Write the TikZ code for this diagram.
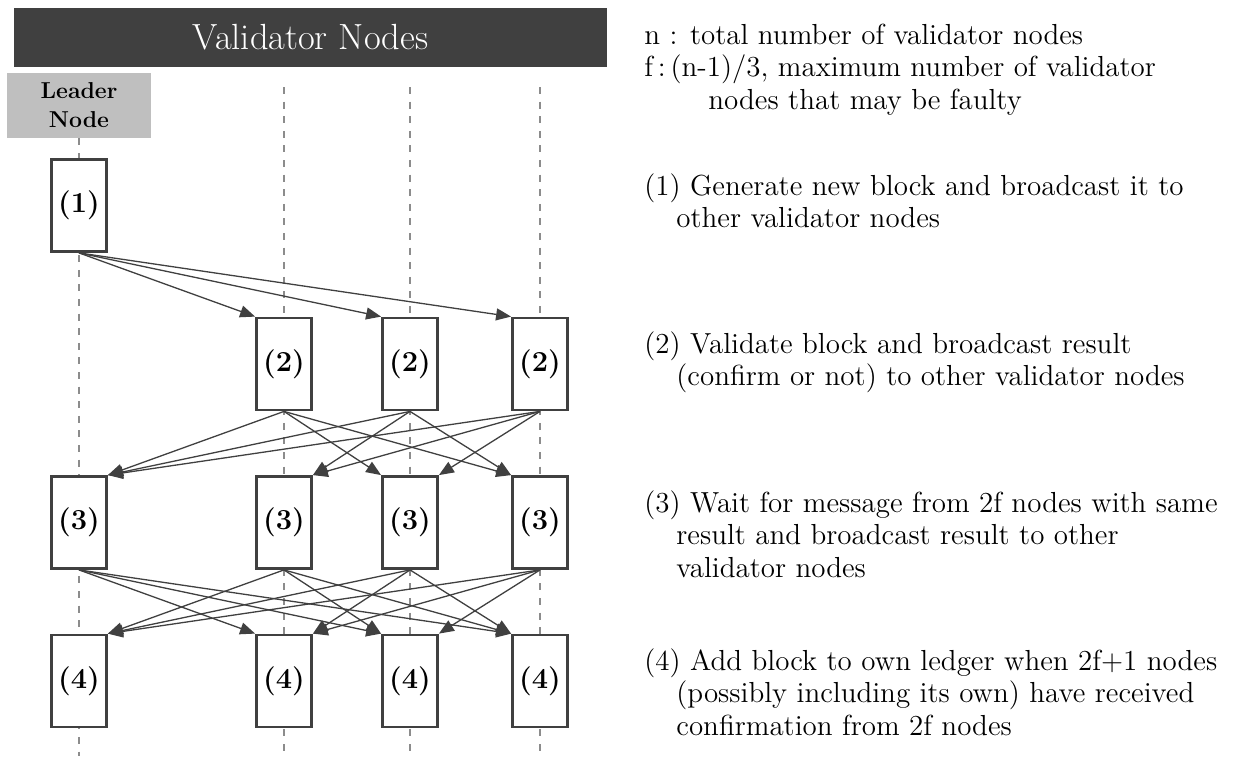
\documentclass[tikz,border=0pt]{standalone}
\usepackage{tikz}
\usetikzlibrary{arrows.meta, positioning}

\definecolor{bardark}{HTML}{404040}
\definecolor{leadgray}{HTML}{BFBFBF}
\definecolor{lifegray}{HTML}{8C8C8C}

\tikzset{
  stepbox/.style={draw=bardark, line width=1.4pt, fill=white, minimum width=27.5pt,
    minimum height=46pt, inner sep=0pt, font=\fontsize{14.5}{16}\selectfont\bfseries},
  lifeline/.style={draw=lifegray, line width=1pt, dash pattern=on 3.5pt off 3.8pt},
  note/.style={anchor=base west, align=left, inner sep=0pt, font=\fontsize{14.5}{16.25}\selectfont},
}

\begin{document}
\begin{tikzpicture}[x=0.5pt, y=-0.5pt, node distance=79.25pt, on grid,
  >={Triangle[length=7.5pt, width=6pt]}]
  \useasboundingbox (0,0) rectangle (1234,756);

  \node[fill=bardark, text=white, minimum width=296.5pt, minimum height=29.5pt, inner sep=0pt,
    font=\fontsize{18.2}{20}\selectfont] (title) at (310.5,37.5) {Validator Nodes};
  \node[fill=leadgray, minimum width=72pt, minimum height=32.5pt, inner sep=0pt, align=center,
    font=\fontsize{11.5}{14.5}\selectfont\bfseries] (leader) at (79,105.5) {Leader\\Node};

  \coordinate (bota) at (79,756);
  \draw[lifeline] (leader.south) -- (bota);
  \foreach \col/\x in {b/284, c/410, d/540} {
    \coordinate (top\col) at (\x,87);
    \coordinate (bot\col) at (\x,756);
    \draw[lifeline] (top\col) -- (bot\col);
  }

  \node[stepbox] (a1) at (79,205.5) {(1)};
  \node[stepbox] (b2) at (284,364) {(2)};
  \node[stepbox] (c2) at (410,364) {(2)};
  \node[stepbox] (d2) at (540,364) {(2)};
  \node[stepbox] (a3) [below=158.5pt of a1] {(3)};
  \node[stepbox] (b3) [below=of b2] {(3)};
  \node[stepbox] (c3) [below=of c2] {(3)};
  \node[stepbox] (d3) [below=of d2] {(3)};
  \node[stepbox] (a4) [below=of a3] {(4)};
  \node[stepbox] (b4) [below=of b3] {(4)};
  \node[stepbox] (c4) [below=of c3] {(4)};
  \node[stepbox] (d4) [below=of d3] {(4)};

  \path[->, color=bardark, line width=0.65pt]
  (a1.south) edge (b2.north west)
  (a1.south) edge (c2.north west)
  (a1.south) edge (d2.north west)
  (b2.south) edge (a3.north east)
  (b2.south) edge (c3.north west)
  (b2.south) edge (d3.north west)
  (c2.south) edge (a3.north east)
  (c2.south) edge (b3.north east)
  (c2.south) edge (d3.north west)
  (d2.south) edge (a3.north east)
  (d2.south) edge (b3.north east)
  (d2.south) edge (c3.north east)
  (a3.south) edge (b4.north west)
  (a3.south) edge (c4.north west)
  (a3.south) edge (d4.north west)
  (b3.south) edge (a4.north east)
  (b3.south) edge (c4.north west)
  (b3.south) edge (d4.north west)
  (c3.south) edge (a4.north east)
  (c3.south) edge (b4.north east)
  (c3.south) edge (d4.north west)
  (d3.south) edge (a4.north east)
  (d3.south) edge (b4.north east)
  (d3.south) edge (c4.north east)
  ;

  \node[note] (legend) at (644,109) {n : total number of validator nodes\\
    f\,:\,(n-1)/3, maximum number of validator\\\hspace*{32pt}nodes that may be faulty};
  \node[note] (note1) at (644,227.5) {(1) Generate new block and broadcast it to\\
    \hspace*{16pt}other validator nodes};
  \node[note] (note2) at (644,385.5) {(2) Validate block and broadcast result\\
    \hspace*{16pt}(confirm or not) to other validator nodes};
  \node[note] (note3) at (644,577) {(3) Wait for message from 2f nodes with same\\
    \hspace*{16pt}result and broadcast result to other\\\hspace*{16pt}validator nodes};
  \node[note] (note4) at (644,735) {(4) Add block to own ledger when 2f+1 nodes\\
    \hspace*{16pt}(possibly including its own) have received\\\hspace*{16pt}confirmation from 2f nodes};
\end{tikzpicture}
\end{document}
